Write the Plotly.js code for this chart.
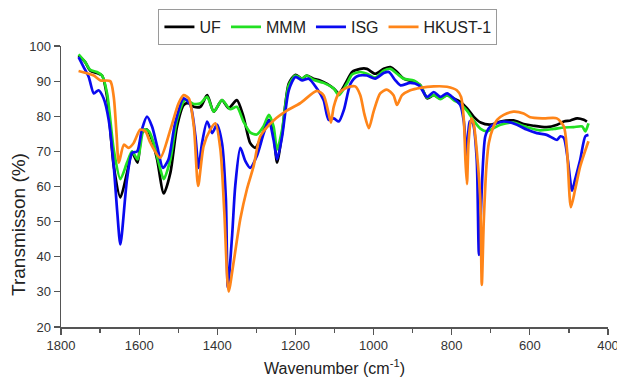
<!DOCTYPE html>
<html>
<head>
<meta charset="utf-8">
<script src="https://cdn.plot.ly/plotly-3.0.1.min.js"></script>
<style>html,body{margin:0;padding:0;background:#fff;}#chart{width:617px;height:378px;}</style>
</head>
<body>
<div id="chart"></div>
<script>
// Series names
const seriesNames = ["UF", "MMM", "ISG", "HKUST-1"];

// UF (black)
const ufWn = [1755,1738,1725,1708,1695,1682,1665,1648,1631,1618,1604,1593,1580,1567,1554,1537,1520,1503,1486,1473,1460,1443,1426,1409,1388,1371,1350,1333,1316,1303,1290,1268,1256,1247,1234,1217,1200,1183,1171,1154,1137,1120,1102,1089,1072,1055,1034,1017,996,974,957,940,923,897,880,863,846,829,812,795,778,761,744,726,701,675,642,616,591,557,530,513,496,479,462,454];
const ufT  = [97.3,95.4,93.0,92.3,91.6,85.5,65.8,56.9,63.9,69.6,66.8,75.2,76.2,73.3,67.7,58.0,63.9,77.1,83.2,83.7,82.7,82.7,86.0,81.3,84.6,82.3,84.6,79.9,72.4,71.0,73.3,79.0,75.2,66.8,75.2,89.3,91.8,90.7,91.6,90.7,90.2,89.3,87.9,86.5,89.3,92.6,93.5,93.5,92.1,93.5,94.0,92.6,90.7,89.8,88.8,85.1,86.0,85.1,86.0,85.1,84.1,82.3,79.9,78.2,77.6,78.5,78.8,77.8,77.3,76.9,77.6,78.5,78.8,79.4,79.0,78.5];

// MMM (green)
const mmmWn = [1755,1738,1725,1708,1695,1682,1665,1648,1631,1618,1604,1588,1575,1563,1550,1537,1520,1503,1482,1460,1443,1426,1409,1388,1367,1350,1333,1316,1299,1282,1268,1256,1247,1234,1217,1200,1183,1171,1154,1128,1102,1089,1068,1055,1034,1017,996,974,957,940,923,897,880,863,846,829,812,795,778,761,744,726,709,693,675,642,608,574,539,513,488,466,458,450];
const mmmT  = [97.6,95.4,93.2,92.6,91.6,86.5,70.5,62.1,66.8,70.0,67.7,76.2,75.7,72.4,66.8,62.1,67.7,79.0,84.6,83.5,83.7,85.5,81.3,84.6,82.0,82.7,78.5,75.4,74.8,77.1,80.4,77.1,70.5,76.2,88.8,91.6,90.7,91.6,90.4,89.5,87.9,86.0,89.3,91.9,92.6,92.1,91.0,93.0,93.5,92.1,90.7,90.2,88.8,85.3,86.0,84.9,86.0,84.6,83.5,81.6,78.8,76.4,75.7,76.6,77.6,78.2,76.9,76.0,76.4,76.8,76.9,77.1,75.7,78.0];

// ISG (blue)
const isgWn = [1755,1742,1729,1716,1704,1691,1678,1665,1656,1648,1631,1618,1605,1593,1580,1567,1554,1539,1525,1508,1486,1469,1456,1448,1439,1426,1413,1401,1388,1378,1373,1362,1354,1341,1328,1316,1299,1281,1268,1256,1247,1234,1217,1200,1183,1166,1145,1128,1115,1102,1089,1076,1059,1042,1017,996,974,961,944,931,906,884,863,846,829,812,795,778,769,761,754,746,736,730,714,701,667,633,608,582,557,530,522,513,503,492,484,471,458,450];
const isgT  = [96.8,94.0,91.2,86.5,87.4,85.1,79.0,65.8,52.7,43.5,62.1,69.6,70.0,76.2,79.9,77.1,71.5,65.3,67.7,78.0,85.1,83.2,74.3,65.3,72.4,78.5,75.2,77.6,72.4,56.4,31.3,46.1,60.2,71.0,67.2,65.3,68.6,75.2,78.8,73.3,67.7,74.3,87.4,91.2,90.2,90.7,87.9,84.6,79.0,79.4,78.5,81.8,89.3,91.4,91.6,90.7,92.3,92.6,90.2,88.8,89.5,88.8,85.5,86.9,85.5,86.5,85.1,83.2,78.5,68.6,78.5,78.0,67.7,40.5,74.3,77.1,78.5,77.6,76.2,75.2,74.7,73.3,74.3,73.8,67.7,58.8,62.1,67.7,74.3,74.7];

// HKUST-1 (orange)
const hkWn = [1755,1716,1699,1674,1665,1658,1652,1639,1627,1614,1597,1584,1571,1546,1520,1499,1486,1473,1460,1449,1435,1418,1405,1392,1382,1371,1358,1341,1324,1307,1290,1256,1222,1188,1145,1128,1115,1109,1102,1089,1068,1047,1034,1024,1012,1000,983,966,949,940,927,906,880,846,812,787,776,769,765,761,757,750,744,734,727,723,718,711,705,693,684,667,642,616,599,565,531,513,505,495,484,471,450];
const hkT  = [92.9,91.6,90.2,90.0,85.5,75.2,66.8,71.9,71.0,72.4,76.2,75.7,72.4,68.2,76.2,83.7,86.0,85.1,77.1,60.2,71.5,76.2,78.0,70.5,52.7,30.1,38.6,50.8,59.3,65.8,74.3,78.8,81.6,83.7,87.2,86.0,80.8,78.2,82.7,86.5,88.2,88.5,86.0,80.8,76.6,81.3,86.5,87.6,86.0,83.2,86.0,87.4,88.1,88.5,88.4,87.4,85.5,79.0,67.7,60.7,72.4,79.4,78.0,67.7,56.4,32.0,50.0,66.0,72.4,77.1,79.0,80.4,81.3,80.8,79.7,79.4,79.4,77.1,70.5,54.1,59.2,65.8,72.9];

// Axis tick labels
const xTickVals = [1800,1600,1400,1200,1000,800,600,400];
const yTickVals = [20,30,40,50,60,70,80,90,100];

const colors = ["#000000", "#22e022", "#0a0af0", "#ff8519"];
const xs = [ufWn, mmmWn, isgWn, hkWn];
const ys = [ufT, mmmT, isgT, hkT];

const FONT = "Liberation Sans, Arial, sans-serif";

const traces = seriesNames.map((n, i) => ({
  type: "scatter",
  mode: "lines",
  name: n,
  x: xs[i],
  y: ys[i],
  line: {color: colors[i], width: 2.7, shape: "spline", smoothing: 0.7},
  hoverinfo: "skip"
}));

const layout = {
  width: 617,
  height: 378,
  margin: {l: 61, r: 9, t: 42, b: 51},
  paper_bgcolor: "#ffffff",
  plot_bgcolor: "#ffffff",
  font: {family: FONT, color: "#333333", size: 13},
  showlegend: true,
  legend: {
    orientation: "h",
    x: 0.488, xanchor: "center",
    y: 1.068, yanchor: "middle",
    bordercolor: "#9a9a9a", borderwidth: 1,
    font: {family: FONT, size: 16, color: "#222222"},
    itemwidth: 30,
    tracegroupgap: 0
  },
  xaxis: {
    range: [1800, 400],
    tickvals: xTickVals,
    ticktext: xTickVals.map(String),
    ticklabeloverflow: "allow",
    showline: true, linecolor: "#555555", linewidth: 1.5,
    ticks: "outside", ticklen: 6, tickcolor: "#555555", tickwidth: 1.2,
    minor: {dtick: 100, tick0: 0, ticks: "outside", ticklen: 4, tickcolor: "#555555", tickwidth: 1.2, showgrid: false},
    showgrid: false, zeroline: false,
    tickfont: {family: FONT, size: 13, color: "#333333"},
    title: {text: "Wavenumber (cm<sup>-1</sup>)", font: {family: FONT, size: 16, color: "#222222"}, standoff: 10}
  },
  yaxis: {
    range: [20, 100],
    tickvals: yTickVals,
    ticktext: yTickVals.map(String),
    showline: true, linecolor: "#555555", linewidth: 1.5,
    ticks: "outside", ticklen: 6, tickcolor: "#555555", tickwidth: 1.2,
    showgrid: false, zeroline: false,
    tickfont: {family: FONT, size: 13, color: "#333333"}
  },
  annotations: [{
    text: "Transmisson (%)",
    xref: "paper", yref: "paper",
    x: -0.079, y: 0.366,
    xanchor: "center", yanchor: "middle",
    textangle: -90,
    showarrow: false,
    font: {family: FONT, size: 19, color: "#222222"}
  }]
};

Plotly.newPlot("chart", traces, layout, {staticPlot: true, displayModeBar: false});
</script>
</body>
</html>
